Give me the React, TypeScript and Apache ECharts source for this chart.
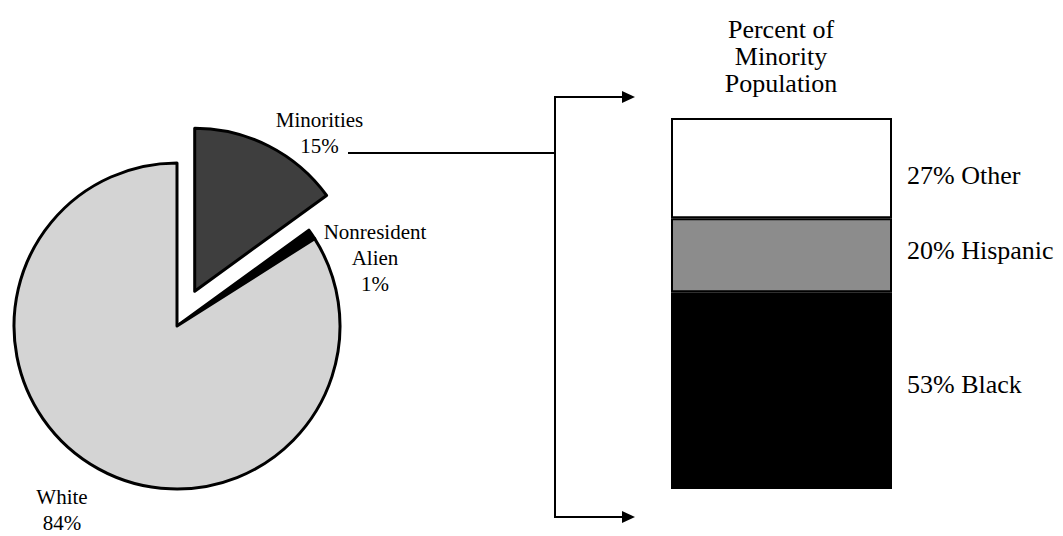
import React, { useEffect, useRef } from "react";
import * as echarts from "echarts";

const pieCategories = ["Minorities", "Nonresident Alien", "White"];
const pieValues = [15, 1, 84];
const barTitle = "Percent of\nMinority\nPopulation";
const barCategories = ["Black", "Hispanic", "Other"];
const barValues = [53, 20, 27];

const FONT = "'Liberation Serif', 'Times New Roman', serif";

export default function App() {
  const ref = useRef<HTMLDivElement>(null);
  useEffect(() => {
    document.body.style.margin = "0";
    if (!ref.current) return;
    const chart = echarts.init(ref.current, undefined, { renderer: "svg" });
    const pieColors = ["#3e3e3e", "#000000", "#d4d4d4"];
    const barColors = ["#000000", "#8c8c8c", "#ffffff"];
    const barLabelOffsets = [[0, -6], [0, -5], [0, 7]];
    const pieLabelPos = [
      { x: 320, y: 140, dx: 9 },
      { x: 375, y: 258, dx: 0 },
      { x: 62, y: 510, dx: 0 },
    ];
    const option: any = {
      animation: false,
      backgroundColor: "#ffffff",
      title: {
        text: barTitle,
        left: 781,
        top: 16,
        padding: 0,
        textAlign: "center",
        textStyle: {
          fontFamily: FONT,
          fontSize: 26,
          fontWeight: "normal",
          lineHeight: 27,
          color: "#000",
        },
      },
      grid: { left: 671, top: 118, width: 221, height: 371 },
      xAxis: {
        type: "category",
        data: ["Minority"],
        show: false,
      },
      yAxis: { type: "value", min: 0, max: 100, show: false },
      series: [
        {
          type: "pie",
          center: [177, 326],
          radius: 163,
          startAngle: 90,
          clockwise: true,
          selectedMode: "single",
          selectedOffset: 39,
          avoidLabelOverlap: false,
          emphasis: { disabled: true },
          labelLine: { show: false },
          label: {
            show: true,
            position: "outside",
            fontFamily: FONT,
            fontSize: 21,
            lineHeight: 26,
            color: "#000",
            formatter: (p: any) => p.name.replace(" ", "\n") + "\n" + p.value + "%",
          },
          labelLayout: (p: any) => ({
            x: pieLabelPos[p.dataIndex].x,
            y: pieLabelPos[p.dataIndex].y,
            dx: pieLabelPos[p.dataIndex].dx,
            align: "center",
            verticalAlign: "middle",
          }),
          data: pieCategories.map((name, i) => ({
            name,
            value: pieValues[i],
            selected: i === 0,
            itemStyle: {
              color: pieColors[i],
              borderColor: "#000",
              borderWidth: 3,
            },
            select: {
              itemStyle: {
                color: pieColors[i],
                borderColor: "#000",
                borderWidth: 3,
              },
            },
          })),
        },
        ...barCategories.map((name, i) => ({
          type: "bar",
          name,
          stack: "minority",
          barWidth: "100%",
          data: [barValues[i]],
          emphasis: { disabled: true },
          itemStyle: {
            color: barColors[i],
            borderColor: "#000",
            borderWidth: 2,
          },
          label: {
            show: true,
            position: "right",
            distance: 15,
            offset: barLabelOffsets[i],
            fontFamily: FONT,
            fontSize: 26,
            color: "#000",
            formatter: (p: any) => p.value + "% " + p.seriesName,
          },
        })),
      ],
      graphic: [
        {
          type: "polyline",
          shape: { points: [[348, 153], [555, 153]] },
          style: { stroke: "#000", lineWidth: 2, fill: null },
        },
        {
          type: "polyline",
          shape: { points: [[624, 97], [555, 97], [555, 517], [624, 517]] },
          style: { stroke: "#000", lineWidth: 2, fill: null },
        },
        {
          type: "polygon",
          shape: { points: [[622, 91], [635, 97], [622, 103]] },
          style: { fill: "#000" },
        },
        {
          type: "polygon",
          shape: { points: [[622, 511], [635, 517], [622, 523]] },
          style: { fill: "#000" },
        },
      ],
    };
    chart.setOption(option);
    return () => chart.dispose();
  }, []);
  return <div ref={ref} style={{ width: 1063, height: 536 }} />;
}
